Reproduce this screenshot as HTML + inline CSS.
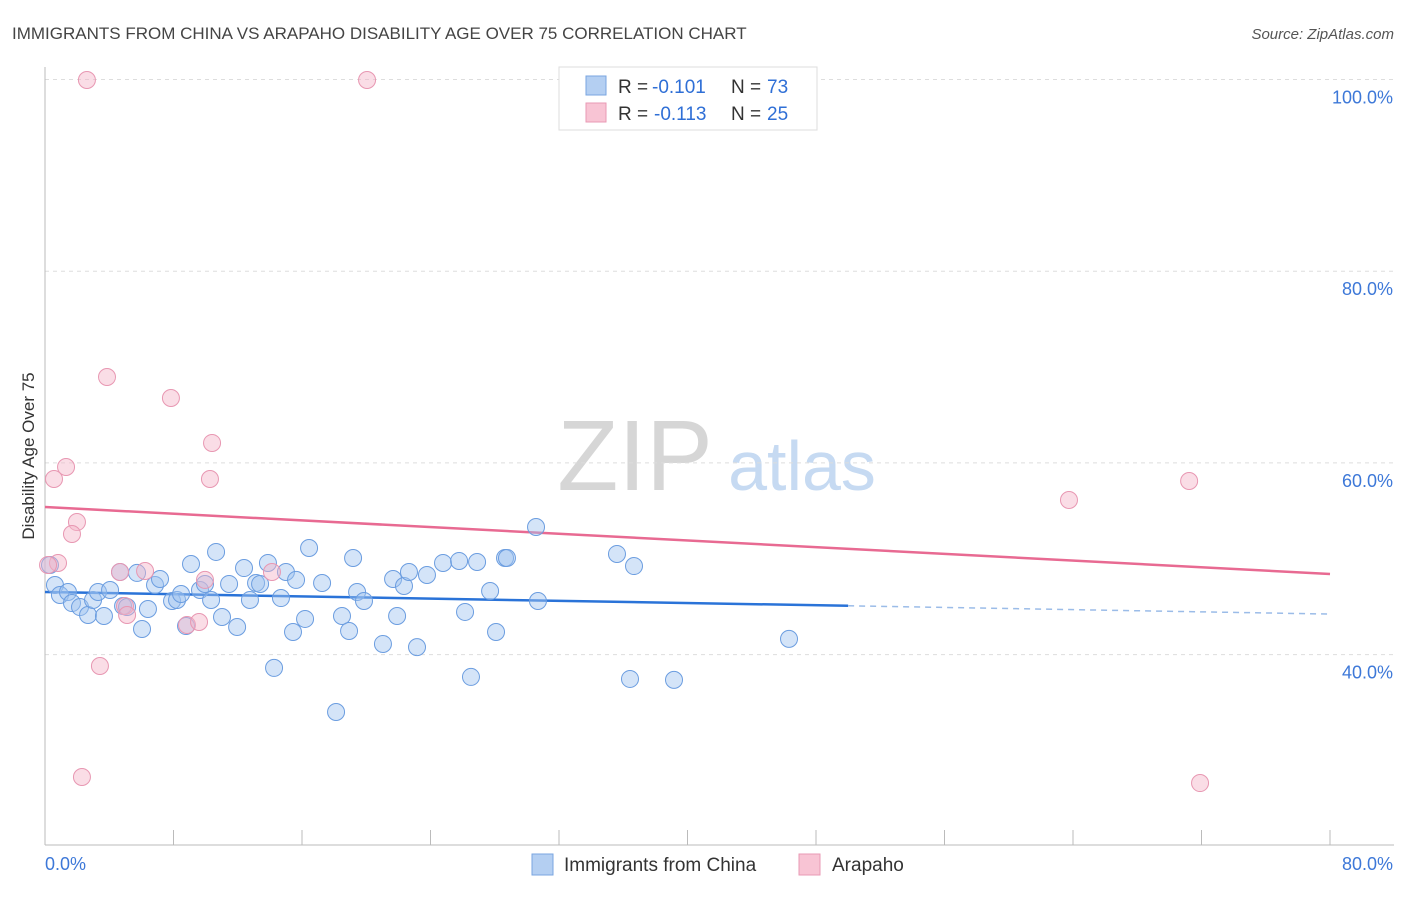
<!DOCTYPE html>
<html><head><meta charset="utf-8"><style>
body{margin:0;background:#fff;font-family:"Liberation Sans",sans-serif}
svg text{font-family:"Liberation Sans",sans-serif}
</style></head><body>
<svg id="chart" width="1406" height="892" xmlns="http://www.w3.org/2000/svg">
<text x="12" y="39" font-size="17" fill="#444">IMMIGRANTS FROM CHINA VS ARAPAHO DISABILITY AGE OVER 75 CORRELATION CHART</text>
<text x="1394" y="39" font-size="15" fill="#555" text-anchor="end" font-style="italic">Source: ZipAtlas.com</text>
<text transform="translate(34,456) rotate(-90)" font-size="17" fill="#333" text-anchor="middle">Disability Age Over 75</text>
<g>
<text x="635" y="490" font-size="100" fill="#d6d6d6" font-family="Liberation Serif,serif" text-anchor="middle">ZIP</text>
<text x="802" y="490" font-size="70" fill="#c6daf2" text-anchor="middle">atlas</text>
</g>
<g id="grid"></g><g id="axes"></g><g id="trends"></g><g id="pts"></g>
<g>
<rect x="559" y="67" width="258" height="63" fill="#fff" stroke="#ddd"/>
<rect x="586" y="76" width="20" height="19" fill="#b4cff2" stroke="#7aa6e0"/>
<text x="618" y="93" font-size="19" fill="#333">R =</text>
<text x="652" y="93" font-size="19" fill="#2f6fd6">-0.101</text>
<text x="731" y="93" font-size="19" fill="#333">N =</text>
<text x="767" y="93" font-size="19" fill="#2f6fd6">73</text>
<rect x="586" y="103" width="20" height="19" fill="#f8c4d4" stroke="#e99ab4"/>
<text x="618" y="120" font-size="19" fill="#333">R =</text>
<text x="654" y="120" font-size="19" fill="#2f6fd6">-0.113</text>
<text x="731" y="120" font-size="19" fill="#333">N =</text>
<text x="767" y="120" font-size="19" fill="#2f6fd6">25</text>
</g>
<g>
<rect x="532" y="854" width="21" height="21" fill="#b4cff2" stroke="#7aa6e0"/>
<text x="564" y="871" font-size="19" fill="#333">Immigrants from China</text>
<rect x="799" y="854" width="21" height="21" fill="#f8c4d4" stroke="#e99ab4"/>
<text x="832" y="871" font-size="19" fill="#333">Arapaho</text>
</g>
</svg>
<script>
const yTicks=[40,60,80,100];
const xTickLabels=["0.0%","80.0%"];
const chinaX=[0.31,0.62,0.93,1.43,1.68,2.18,2.68,2.99,3.30,3.67,4.05,4.67,4.86,5.11,5.73,6.04,6.41,6.85,7.16,7.91,8.22,8.47,8.78,9.09,9.65,9.96,10.34,10.65,11.02,11.46,11.96,12.39,12.76,13.14,13.39,13.88,14.69,15.00,15.44,15.63,16.19,16.44,17.25,18.12,18.49,18.93,19.18,19.43,19.86,21.04,21.67,21.92,22.35,22.66,23.16,23.78,24.78,25.78,26.15,26.52,26.90,27.71,28.08,28.64,28.76,30.57,30.69,35.61,36.42,36.67,39.16,46.32,14.26];
const chinaY=[49.35,47.26,46.22,46.53,45.38,44.96,44.13,45.70,46.53,44.03,46.74,48.62,45.07,44.97,48.52,42.67,44.76,47.26,47.89,45.59,45.70,46.32,42.98,49.45,46.74,47.37,45.70,50.71,43.92,47.37,42.88,49.03,45.70,47.47,47.37,49.56,45.90,48.62,42.36,47.79,43.72,51.12,47.47,34.01,44.03,42.46,50.08,46.53,45.59,41.11,47.89,44.03,47.16,48.62,40.78,48.31,49.56,49.77,44.45,37.67,49.66,46.63,42.36,50.08,50.08,53.31,45.59,50.50,37.46,49.24,37.36,41.64,38.61];
const arapahoX=[2.61,20.05,0.56,1.31,3.86,7.84,10.40,10.27,1.99,1.68,0.81,0.19,4.67,6.23,9.96,14.13,4.98,5.11,8.84,9.59,3.42,2.30,63.75,71.23,71.91];
const arapahoY=[99.95,99.95,58.32,59.57,68.96,66.77,62.08,58.32,53.83,52.58,49.56,49.35,48.62,48.72,47.79,48.62,45.07,44.13,43.09,43.40,38.81,27.23,56.13,58.11,26.60];
const chinaTrend=[46.53,44.23];
const arapahoTrend=[55.40,48.41];
const NS="http://www.w3.org/2000/svg";
const sx=v=>45+v/80*1285;
const sy=v=>79.5+(100-v)/20*191.7;
function mk(parent,tag,attrs){const e=document.createElementNS(NS,tag);for(const k in attrs)e.setAttribute(k,attrs[k]);document.getElementById(parent).appendChild(e);return e;}
yTicks.forEach(t=>{
 const l=mk('grid','line',{x1:45,x2:1394,y1:sy(t),y2:sy(t),stroke:'#ddd','stroke-dasharray':'4,4'});
 
 
 const tx=mk('grid','text',{x:1393,y:sy(t)+24,'font-size':18,fill:'#3d78d8','text-anchor':'end'});
 tx.textContent=t.toFixed(1)+'%';
 
 
});
const ax=mk('axes','line',{x1:45,x2:45,y1:67,y2:845,stroke:'#bbb'});


const bx=mk('axes','line',{x1:45,x2:1394,y1:845,y2:845,stroke:'#bbb'});


for(let i=0;i<=10;i++){const t=mk('axes','line',{x1:sx(i*8),x2:sx(i*8),y1:830,y2:845,stroke:'#bbb'});
 
 }
const xl0=mk('axes','text',{x:45,y:870,'font-size':18,fill:'#3d78d8'});xl0.textContent=xTickLabels[0];


const xl1=mk('axes','text',{x:1393,y:870,'font-size':18,fill:'#3d78d8','text-anchor':'end'});xl1.textContent=xTickLabels[1];


const cy=x=>chinaTrend[0]+(chinaTrend[1]-chinaTrend[0])*x/80;
const t1=mk('trends','line',{x1:sx(0),y1:sy(cy(0)),x2:sx(50),y2:sy(cy(50)),stroke:'#2a73d8','stroke-width':2.5});


const t2=mk('trends','line',{x1:sx(50),y1:sy(cy(50)),x2:sx(80),y2:sy(cy(80)),stroke:'#9bbce8','stroke-width':1.5,'stroke-dasharray':'6,5'});


const t3=mk('trends','line',{x1:sx(0),y1:sy(arapahoTrend[0]),x2:sx(80),y2:sy(arapahoTrend[1]),stroke:'#e86a92','stroke-width':2.5});


chinaX.forEach((x,i)=>{const c=mk('pts','circle',{cx:sx(x),cy:sy(chinaY[i]),r:8.5,fill:'rgba(160,195,240,0.45)',stroke:'#6b9de0','stroke-width':1});
 
 });
arapahoX.forEach((x,i)=>{const c=mk('pts','circle',{cx:sx(x),cy:sy(arapahoY[i]),r:8.5,fill:'rgba(245,180,200,0.45)',stroke:'#e897b2','stroke-width':1});
 
 });
</script>
</body></html>
